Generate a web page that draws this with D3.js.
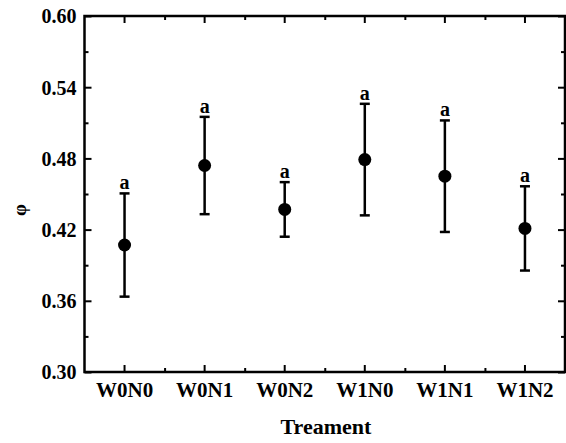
<!DOCTYPE html>
<html>
<head>
<meta charset="utf-8">
<script src="https://cdn.jsdelivr.net/npm/d3@7"></script>
<style>
  html, body { margin: 0; padding: 0; background: #fff; }
  svg { display: block; }
  text { font-family: "Liberation Serif", "Times New Roman", serif; font-weight: bold; fill: #000; }
</style>
</head>
<body>
<svg id="chart" width="566" height="443"></svg>
<script>
// ---- data ----
const categories = ["W0N0", "W0N1", "W0N2", "W1N0", "W1N1", "W1N2"];
const means      = [0.407, 0.474, 0.437, 0.479, 0.465, 0.421];
const errors     = [0.0435, 0.041, 0.023, 0.047, 0.047, 0.0355];
const letters    = ["a", "a", "a", "a", "a", "a"];
const yTicks     = [0.30, 0.36, 0.42, 0.48, 0.54, 0.60];
const yMinorTicks = [0.33, 0.39, 0.45, 0.51, 0.57];
const xLabel = "Treament";
const yLabel = "φ";

// ---- layout ----
const svg = d3.select("#chart");
const pLeft = 84.5, pRight = 565, pTop = 16, pBottom = 372;

const x = d3.scaleBand().domain(categories).range([pLeft, pRight]).paddingInner(0).paddingOuter(0);
const xc = d => x(d) + x.bandwidth() / 2;
const y = d3.scaleLinear().domain([0.30, 0.60]).range([pBottom, pTop]);

const g = svg.append("g");

const majorLen = 7, minorLen = 4;
const boundaries = categories.slice(1).map(c => x(c));

// left axis
const leftAxis = d3.axisLeft(y).tickValues(yTicks).tickFormat(d3.format(".2f")).tickSizeInner(-majorLen).tickSizeOuter(0).tickPadding(8);
const gl = g.append("g").attr("transform", `translate(${pLeft},0)`).call(leftAxis);
gl.selectAll("text").style("font-size", "20px").attr("dy", "0.34em");
g.append("g").attr("transform", `translate(${pLeft},0)`)
  .call(d3.axisLeft(y).tickValues(yMinorTicks).tickSizeInner(-minorLen).tickSizeOuter(0).tickFormat(""));

// right axis
g.append("g").attr("transform", `translate(${pRight},0)`)
  .call(d3.axisRight(y).tickValues(yTicks).tickSizeInner(-majorLen).tickSizeOuter(0).tickFormat(""));
g.append("g").attr("transform", `translate(${pRight},0)`)
  .call(d3.axisRight(y).tickValues(yMinorTicks).tickSizeInner(-minorLen).tickSizeOuter(0).tickFormat(""));

// bottom axis
const bottomAxis = d3.axisBottom(x).tickSizeInner(-majorLen).tickSizeOuter(0).tickPadding(10);
const gb = g.append("g").attr("transform", `translate(0,${pBottom})`).call(bottomAxis);
gb.selectAll("text").style("font-size", "21px");
const xMinorScale = d3.scaleLinear().domain([pLeft, pRight]).range([pLeft, pRight]);
g.append("g").attr("transform", `translate(0,${pBottom})`)
  .call(d3.axisBottom(xMinorScale).tickValues(boundaries).tickSizeInner(-minorLen).tickSizeOuter(0).tickFormat(""));

// top axis
g.append("g").attr("transform", `translate(0,${pTop})`)
  .call(d3.axisTop(x).tickSizeInner(-majorLen).tickSizeOuter(0).tickFormat(""));
g.append("g").attr("transform", `translate(0,${pTop})`)
  .call(d3.axisTop(xMinorScale).tickValues(boundaries).tickSizeInner(-minorLen).tickSizeOuter(0).tickFormat(""));

g.selectAll(".domain").remove();
g.selectAll(".tick line").attr("stroke", "#000").attr("stroke-width", 2);

// frame
g.append("rect").attr("x", pLeft).attr("y", pTop).attr("width", pRight - pLeft).attr("height", pBottom - pTop)
  .attr("fill", "none").attr("stroke", "#000").attr("stroke-width", 2.5);

// error bars
const data = categories.map((c, i) => ({ c, m: means[i], e: errors[i], l: letters[i] }));
const capW = 5;
const eb = g.append("g").selectAll("g").data(data).join("g");
eb.append("line").attr("x1", d => xc(d.c)).attr("x2", d => xc(d.c))
  .attr("y1", d => y(d.m + d.e)).attr("y2", d => y(d.m - d.e))
  .attr("stroke", "#000").attr("stroke-width", 2.5);
eb.append("line").attr("x1", d => xc(d.c) - capW).attr("x2", d => xc(d.c) + capW)
  .attr("y1", d => y(d.m + d.e)).attr("y2", d => y(d.m + d.e))
  .attr("stroke", "#000").attr("stroke-width", 2.5);
eb.append("line").attr("x1", d => xc(d.c) - capW).attr("x2", d => xc(d.c) + capW)
  .attr("y1", d => y(d.m - d.e)).attr("y2", d => y(d.m - d.e))
  .attr("stroke", "#000").attr("stroke-width", 2.5);
eb.append("circle").attr("cx", d => xc(d.c)).attr("cy", d => y(d.m)).attr("r", 6.5).attr("fill", "#000");
eb.append("text").attr("x", d => xc(d.c)).attr("y", d => y(d.m + d.e) - 4)
  .attr("text-anchor", "middle").style("font-size", "20px").text(d => d.l);

// axis titles
svg.append("text").attr("x", 326).attr("y", 434)
  .attr("text-anchor", "middle").style("font-size", "22px").text(xLabel);
svg.append("text").attr("transform", `translate(26,210) rotate(-90)`)
  .attr("text-anchor", "middle").style("font-size", "19px").text(yLabel);
</script>
</body>
</html>
